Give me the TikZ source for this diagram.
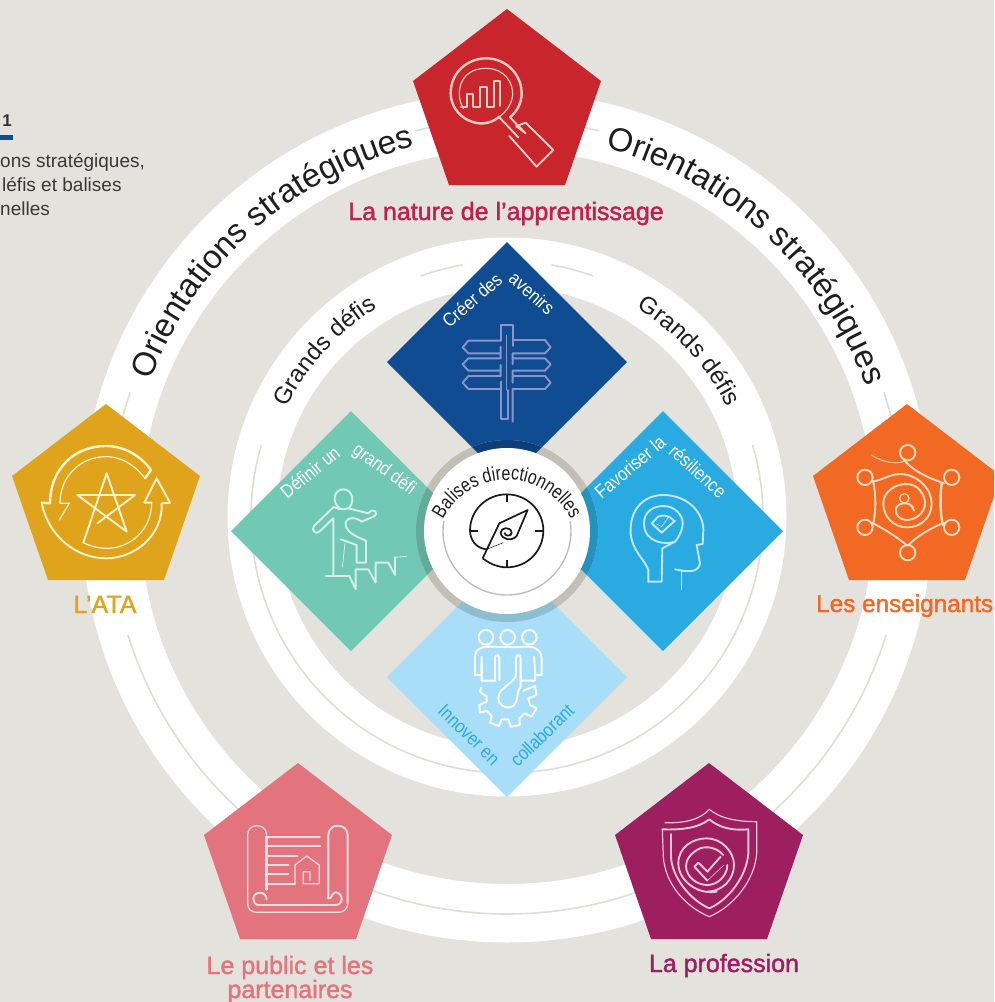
\documentclass[tikz,border=0pt]{standalone}
\usepackage{fontspec}
\setmainfont{Liberation Sans}
\newfontfamily\condfont[FakeStretch=0.86]{Liberation Sans}
\newfontfamily\balfont[FakeStretch=0.8]{Liberation Sans}
\newfontfamily\labfont[FakeBold=1.6]{Liberation Sans}
\usetikzlibrary{decorations.text}
\definecolor{bgc}{HTML}{E3E2DD}
\definecolor{thin}{HTML}{DEDDD6}
\definecolor{cred}{HTML}{C9252D}
\definecolor{cyel}{HTML}{E0A41C}
\definecolor{cora}{HTML}{F26924}
\definecolor{cpin}{HTML}{E3747E}
\definecolor{cplu}{HTML}{9E1F5F}
\definecolor{clab}{HTML}{BE2150}
\definecolor{dtop}{HTML}{0F4C92}
\definecolor{dlef}{HTML}{70C8B5}
\definecolor{drig}{HTML}{29ABE2}
\definecolor{dbot}{HTML}{A9DEF9}
\definecolor{ringb}{HTML}{C2C0B6}
\definecolor{ringt}{HTML}{0C3F7A}
\definecolor{ringl}{HTML}{63AB99}
\definecolor{ringr}{HTML}{2292BE}
\definecolor{ringd}{HTML}{8FBDD0}
\definecolor{arcg}{HTML}{BDBDC4}
\definecolor{icred}{HTML}{F5CDBF}
\definecolor{icyel}{HTML}{FFF3D0}
\definecolor{icora}{HTML}{FDDCC0}
\definecolor{icpin}{HTML}{FBDDE0}
\definecolor{icplu}{HTML}{E8C5D5}
\definecolor{icsig}{HTML}{8C94C8}
\definecolor{ictea}{HTML}{D5EFE8}
\definecolor{ichea}{HTML}{C5E6F7}
\definecolor{inkc}{HTML}{1E1E1E}
\tikzset{
  thinarc/.style={draw=thin,line width=1.6pt},
  iconln/.style={line width=1.9pt,line join=round,line cap=round},
  labeltxt/.style={font=\labfont\fontsize{25}{25}\selectfont,inner sep=0pt,anchor=base},
  dtxt/.style={font=\condfont\fontsize{19}{19}\selectfont,inner sep=0pt,text=white},
}
\newcommand{\penta}[3]{\fill[#3,shift={(#1,#2)}] (0,0)--(94,72)--(58,176)--(-58,176)--(-94,72)--cycle;}
\newcommand{\diam}[3]{\fill[#3,shift={(#1,#2)}] (0,-120)--(120,0)--(0,120)--(-120,0)--cycle;}
\newcommand{\diamring}[3]{\begin{scope}\clip[shift={(#1,#2)}] (0,-120)--(120,0)--(0,120)--(-120,0)--cycle;\fill[#3] (507,531) circle[radius=91pt];\end{scope}}
\newcommand{\curved}[7]{\path[decorate,decoration={text along path,text align=center,text color=#6,text={|#5|#4}}] (#1) ++(#2+#7:#3pt) arc[start angle=#2+#7,end angle=#2-#7,radius=#3pt];}
\begin{document}
\begin{tikzpicture}[x=1pt,y=-1pt]
\useasboundingbox (0,0) rectangle (994,1002);
\clip (0,0) rectangle (994,1002);
\fill[bgc] (0,0) rectangle (994,1002);
\coordinate (C) at (507,517);
\coordinate (M) at (507,531);
\coordinate (B) at (507,552);
% outer ring
\fill[white,even odd rule] (C) circle[radius=425.5pt] (C) circle[radius=367pt];
\foreach \a/\b in {103.4/95,76.6/85,161.7/175,18.3/5,197.3/230,-17.3/-50,245/295}
  \draw[thinarc] (C) ++(\a:397pt) arc[start angle=\a,end angle=\b,radius=397pt];
% inner ring
\fill[white,even odd rule] (C) circle[radius=279.5pt] (C) circle[radius=230pt];
\foreach \a/\b in {163.6/376.4,109.7/100,70.3/80}
  \draw[thinarc] (C) ++(\a:256pt) arc[start angle=\a,end angle=\b,radius=256pt];
% curved ring texts
\curved{C}{131.5}{382}{Orientations stratégiques}{\fontsize{33}{33}\selectfont}{inkc}{40}
\curved{C}{47.5}{382}{Orientations stratégiques}{\fontsize{33}{33}\selectfont}{inkc}{40}
\curved{C}{137.7}{246}{Grands défis}{\fontsize{24}{24}\selectfont}{inkc}{40}
\curved{C}{42.3}{246}{Grands défis}{\fontsize{24}{24}\selectfont}{inkc}{40}
% pentagons
\penta{507}{9}{cred}
\penta{106}{404}{cyel}
\penta{907}{404}{cora}
\penta{298}{763}{cpin}
\penta{709}{763}{cplu}
% diamonds
\diam{507}{362}{dtop}
\diam{351}{531}{dlef}
\diam{663}{531}{drig}
\diam{507}{677}{dbot}
% centre
\fill[ringb] (M) circle[radius=91pt];
\diamring{507}{362}{ringt}
\diamring{351}{531}{ringl}
\diamring{663}{531}{ringr}
\diamring{507}{677}{ringd}
\fill[white] (M) circle[radius=83pt];
\draw[line width=1.4pt,arcg] (M) ++(171:64pt) arc[start angle=171,end angle=369,radius=64pt];
\curved{B}{90}{72}{Balises directionnelles}{\balfont\fontsize{20}{20}\selectfont}{inkc}{85}
% compass
\begin{scope}[shift={(380,430)},scale=1/3,line width=1.7pt,draw=black!90,line join=round]
  \draw (308,385) .. controls (340,410) and (370,412) .. (380,412) .. controls (445,412) and (490,360) .. (490,302) .. controls (490,240) and (440,193) .. (380,193) .. controls (320,193) and (270,240) .. (270,302) .. controls (270,325) and (285,355) .. (320,358);
  \draw[line width=.5pt] (320,358) -- (370,338);
  \draw (308,385) -- (358,280) -- (443,240) -- (410,318) .. controls (395,335) and (365,330) .. (362,308) .. controls (362,292) and (392,288) .. (395,308) .. controls (395,320) and (375,320) .. (373,308);
  \draw[line width=1.8pt] (380,193) -- (380,215) (380,412) -- (380,390) (270,302) -- (295,302) (465,302) -- (490,302);
\end{scope}
% red icon
\begin{scope}[shift={(380,0)},scale=1/3,iconln,icred]
  \draw[line width=2.4pt] (358,350) .. controls (300,400) and (212,350) .. (212,280) .. controls (212,215) and (265,175) .. (318,175) .. controls (380,175) and (425,225) .. (425,280) .. controls (425,310) and (410,335) .. (390,352);
  \draw[line width=1.2pt] (250,325) .. controls (225,285) and (235,205) .. (318,205) .. controls (375,205) and (400,250) .. (398,285) .. controls (396,310) and (380,335) .. (358,350);
  \draw (243,320) -- (262,320) -- (262,282) -- (280,282) -- (280,320) -- (300,320) -- (300,262) -- (322,262) -- (322,320) -- (342,320) -- (342,243) -- (360,243) -- (360,318);
  \draw (390,352) -- (437,400) -- (408,378) (358,352) -- (415,412);
  \draw (388,408) -- (470,500) -- (520,450) -- (437,368) -- (410,378);
\end{scope}
% yellow icon
\begin{scope}[shift={(0,90)},scale=1/3,iconln,icyel]
  \draw[line width=2.4pt] (435,1165) -- (453,1140) .. controls (420,1095) and (370,1068) .. (318,1068) .. controls (220,1068) and (150,1140) .. (150,1240) -- (125,1238);
  \draw (125,1238) .. controls (145,1340) and (230,1405) .. (318,1405) .. controls (410,1405) and (490,1330) .. (485,1240) -- (510,1238) -- (470,1165) -- (433,1238) -- (455,1238);
  \draw[line width=1.2pt] (435,1165) .. controls (400,1120) and (360,1100) .. (318,1100) .. controls (240,1100) and (180,1160) .. (180,1240) -- (208,1240) -- (178,1290);
  \draw[line width=1.2pt] (455,1238) .. controls (455,1320) and (390,1375) .. (320,1375) .. controls (295,1375) and (270,1368) .. (250,1358);
  \draw (250,1358) -- (320,1150) -- (380,1325) -- (232,1215) -- (405,1215) -- (292,1300);
\end{scope}
% orange icon
\begin{scope}[shift={(800,400)},scale=1/3,iconln,icora]
  \foreach \p in {(323,158),(455,232),(455,382),(323,458),(195,382),(195,232)} \draw \p circle[radius=23pt];
  \draw[line width=.9pt] (215,165) .. controls (250,190) and (300,195) .. (318,180);
  \draw (310,178) .. controls (340,215) and (390,235) .. (432,250);
  \draw[line width=2.4pt] (425,250) .. controls (420,290) and (420,330) .. (428,375);
  \draw (432,368) .. controls (390,385) and (350,410) .. (325,435);
  \draw (322,437) .. controls (290,410) and (250,385) .. (215,368);
  \draw (220,370) .. controls (228,330) and (228,290) .. (220,245);
  \draw (215,245) .. controls (250,240) and (270,222) .. (300,222) .. controls (350,222) and (395,265) .. (395,310) .. controls (395,355) and (360,382) .. (322,382) .. controls (280,382) and (250,350) .. (250,310) .. controls (250,275) and (285,252) .. (320,252) .. controls (355,252) and (375,285) .. (375,310) .. controls (375,340) and (345,360) .. (320,360) .. controls (300,360) and (287,345) .. (287,330) .. controls (287,315) and (305,308) .. (320,310) .. controls (335,312) and (340,325) .. (342,332);
  \draw[line width=1.2pt] (313,295) circle[radius=14pt];
\end{scope}
% pink icon
\begin{scope}[shift={(190,760)},scale=1/3,iconln,icpin]
  \draw[line width=1.2pt] (230,225) .. controls (230,205) and (215,197) .. (200,197) .. controls (185,197) and (173,208) .. (173,225) -- (173,430) .. controls (173,448) and (185,457) .. (200,457) -- (445,457) .. controls (460,457) and (473,448) .. (473,430);
  \draw (473,430) -- (473,225) .. controls (473,208) and (460,197) .. (443,197) .. controls (428,197) and (415,208) .. (415,225) -- (415,415);
  \draw[line width=2.8pt] (230,230) -- (230,388);
  \draw (230,231) -- (390,231) (230,371) -- (315,371);
  \draw[line width=2.3pt] (230,259) -- (390,259) (230,287) -- (322,287);
  \draw[line width=2.8pt] (230,315) -- (295,315);
  \draw[line width=2.3pt] (230,343) -- (295,343);
  \draw[line width=1.2pt] (315,371) -- (315,315) -- (350,288) -- (388,315) -- (388,371) -- (340,371) -- (340,335) -- (360,335) -- (360,360);
  \draw (415,415) .. controls (425,420) and (425,397) .. (437,397) .. controls (450,397) and (455,410) .. (455,417) .. controls (455,430) and (445,435) .. (435,435) -- (205,435) .. controls (195,435) and (190,425) .. (190,417) .. controls (190,405) and (200,398) .. (210,398) .. controls (222,398) and (230,408) .. (230,418);
\end{scope}
% plum icon
\begin{scope}[shift={(600,760)},scale=1/3,iconln,icplu]
  \draw[line width=1.2pt] (195,188) .. controls (250,190) and (300,180) .. (328,148) .. controls (360,175) and (410,185) .. (470,185) -- (470,280) .. controls (465,360) and (400,440) .. (328,470) .. controls (255,440) and (195,370) .. (190,290) -- (187,208);
  \draw (187,208) .. controls (240,210) and (295,205) .. (328,178) .. controls (360,205) and (400,212) .. (445,208) -- (445,280) .. controls (440,350) and (385,420) .. (328,445) .. controls (270,420) and (215,350) .. (213,290) -- (213,222);
  \draw (350,395) .. controls (290,405) and (235,360) .. (235,310) .. controls (235,260) and (280,235) .. (320,235) .. controls (365,235) and (402,275) .. (402,315) .. controls (402,360) and (365,395) .. (320,395);
  \draw (370,285) .. controls (350,262) and (320,258) .. (300,265) .. controls (270,280) and (258,300) .. (258,318) .. controls (258,350) and (290,375) .. (322,375) .. controls (355,375) and (382,345) .. (382,315);
  \draw (362,290) -- (322,335) -- (295,308) -- (283,320) -- (322,362);
  \draw[line width=.6pt] (322,362) -- (372,315);
\end{scope}
% signpost
\begin{scope}[shift={(440,310)},scale=1/3,iconln,icsig]
  \draw (182,92) -- (182,45) -- (220,45) -- (220,108);
  \draw (220,90) -- (315,90) -- (332,112) -- (315,130) -- (218,130) -- (218,163);
  \draw (218,145) -- (315,145) -- (332,163) -- (315,182) -- (218,182) -- (218,218);
  \draw (218,198) -- (315,198) -- (332,218) -- (315,237) -- (218,237) -- (218,335);
  \draw (182,92) -- (85,92) -- (68,112) -- (85,130) -- (182,130) (182,110) -- (182,145);
  \draw (182,145) -- (85,145) -- (68,163) -- (85,182) -- (182,182) (182,165) -- (182,198);
  \draw (182,198) -- (85,198) -- (68,218) -- (85,237) -- (182,237);
  \draw (182,215) -- (182,328) -- (205,328) -- (205,240);
  \draw[line width=.8pt] (200,75) -- (200,240);
\end{scope}
% teal icon
\begin{scope}[shift={(290,480)},scale=1/3,iconln,ictea]
  \draw (150,85) .. controls (125,70) and (130,28) .. (160,28) .. controls (190,28) and (195,70) .. (175,85) .. controls (160,92) and (135,85) .. (130,80);
  \draw (130,82) -- (72,138) .. controls (62,150) and (78,165) .. (88,155) -- (130,115) -- (130,288) -- (108,288) -- (178,288) -- (197,328) -- (197,268) -- (235,268) -- (257,308) -- (257,248) -- (295,248) -- (315,285) -- (315,232);
  \draw[line width=.8pt] (315,232) -- (350,229);
  \draw (175,85) -- (235,100) .. controls (250,80) and (270,100) .. (250,110) -- (215,125) .. controls (190,105) and (160,115) .. (168,140) .. controls (175,160) and (200,170) .. (228,182) -- (228,248) -- (200,248) -- (200,195) -- (152,178);
  \draw[line width=.8pt] (165,190) -- (157,262);
\end{scope}
% head icon
\begin{scope}[shift={(500,400)},scale=1/3,iconln,ichea]
  \draw (445,545) -- (445,510) .. controls (435,480) and (395,450) .. (392,400) .. controls (388,330) and (430,285) .. (490,285) .. controls (560,285) and (610,335) .. (610,390) -- (608,432) -- (590,435) -- (600,490) .. controls (595,520) and (560,515) .. (525,508);
  \draw (445,545) -- (485,545) -- (487,445) -- (525,425);
  \draw (525,425) .. controls (500,435) and (432,430) .. (432,370) .. controls (432,335) and (460,318) .. (490,318) .. controls (525,318) and (548,345) .. (548,370) .. controls (548,395) and (530,420) .. (525,425);
  \draw (520,360) .. controls (500,340) and (470,345) .. (465,360) -- (455,370) -- (485,398) -- (525,362);
  \draw[line width=.7pt] (470,372) -- (485,380) -- (505,352);
  \draw[line width=.8pt] (545,510) -- (545,570);
\end{scope}
% team icon
\begin{scope}[shift={(380,430)},scale=1/3,iconln,white]
  \foreach \p in {318,383,448} \draw (\p,622) circle[radius=22pt];
  \draw (305,680) -- (305,735) -- (285,735) -- (285,680) .. controls (285,660) and (300,652) .. (320,650) .. controls (350,648) and (370,655) .. (383,650) .. controls (400,655) and (425,648) .. (450,650) .. controls (470,652) and (485,665) .. (485,685) -- (485,735) -- (466,735) -- (462,680);
  \draw (305,700) -- (305,752) -- (345,752) -- (345,685) .. controls (345,672) and (358,672) .. (358,685) -- (358,750);
  \draw (408,685) -- (408,735) .. controls (405,760) and (355,770) .. (355,805) .. controls (355,825) and (375,835) .. (390,832) .. controls (420,825) and (405,790) .. (422,770) -- (422,685) .. controls (422,672) and (408,672) .. (408,685);
  \draw (422,735) -- (422,752) -- (465,752) -- (466,735);
  \draw (465,768) -- (470,795) -- (445,805) -- (450,825) -- (470,835) -- (455,860) -- (435,850) -- (418,865) -- (420,885) -- (392,890) -- (385,868) -- (365,868) -- (357,888) -- (330,878) -- (335,858) -- (320,843) -- (300,848) -- (298,825) -- (320,815) -- (320,800) -- (300,785) -- (303,773);
  \draw (465,768) -- (430,782);
\end{scope}
% diamond labels
\node[dtxt,rotate=41] (d1a) at (472,300) {Créer des};
\node[dtxt,rotate=-41] (d1b) at (532,293) {avenirs};
\node[dtxt,rotate=39] (d2a) at (310,472) {Définir un};
\node[dtxt,rotate=-36] (d2b) at (384,470) {grand défi};
\node[dtxt,rotate=40] (d3a) at (630,467) {Favoriser la};
\node[dtxt,rotate=-42] (d3b) at (698,471) {résilience};
\node[dtxt,rotate=-44,text=drig] (d4a) at (469,735) {Innover en};
\node[dtxt,rotate=44,text=drig] (d4b) at (542,735) {collaborant};
% pentagon labels
\node[labeltxt,text=clab] (l1) at (506,220) {La nature de l’apprentissage};
\node[labeltxt,text=cyel] (l2) at (105,613) {L’ATA};
\node[labeltxt,text=cora,anchor=base west,font=\labfont\fontsize{24.3}{24.3}\selectfont] (l3) at (816,612) {Les enseignants};
\node[labeltxt,text=cpin] (l4) at (290,974) {Le public et les};
\node[labeltxt,text=cpin] (l5) at (290,998) {partenaires};
\node[labeltxt,text=cplu] (l6) at (724,972) {La profession};
% side caption
\fill[dtop] (0,135) rectangle (13,140);
\node[inner sep=0pt,anchor=base,font=\bfseries\fontsize{17}{17}\selectfont,text=black!80] (n1) at (7,126) {1};
\begin{scope}[every node/.style={inner sep=0pt,anchor=base west,font=\fontsize{19}{19}\selectfont,text=black!78}]
\node (s1) at (0,167) {ons stratégiques,};
\node (s2) at (2,191) {léfis et balises};
\node (s3) at (0,215) {nelles};
\end{scope}
\end{tikzpicture}
\end{document}
